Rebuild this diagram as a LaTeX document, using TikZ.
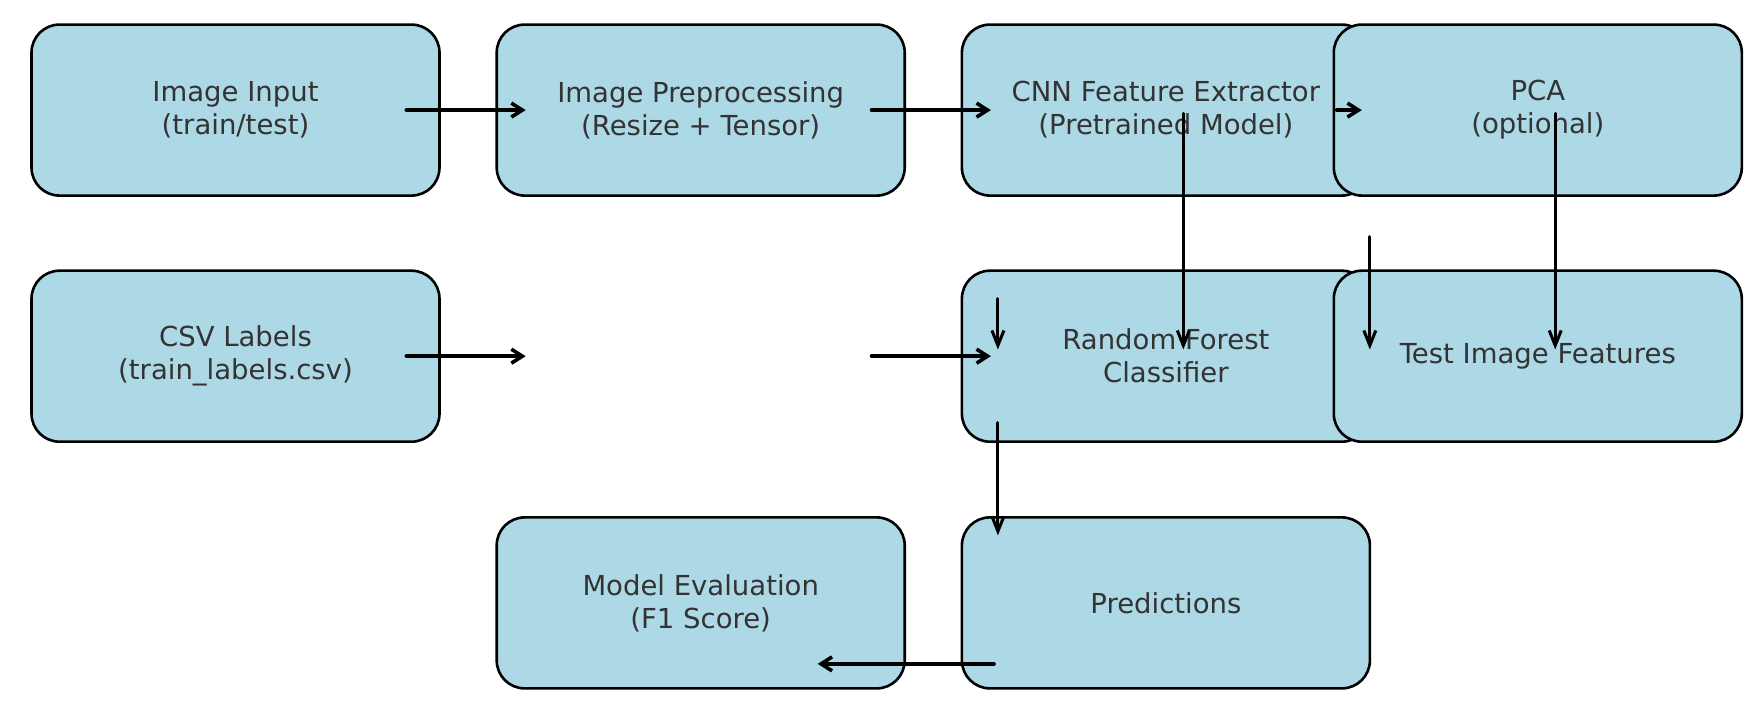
\documentclass[tikz,border=0pt]{standalone}
\usepackage{fontspec}
\setmainfont{DejaVu Sans}
\usetikzlibrary{arrows.meta}
\definecolor{boxfill}{HTML}{ADD8E6}
\definecolor{boxtext}{HTML}{333333}
\begin{document}
\begin{tikzpicture}[x=1pt,y=1pt,line width=2.6pt,
    stage/.style={draw=black,fill=boxfill,rounded corners=28pt,minimum width=408pt,
      minimum height=171pt,inner sep=0pt,outer sep=0pt,align=center,text=boxtext,
      font=\fontsize{27.5}{33}\selectfont},
    flow/.style={line width=4pt,line cap=round,-{Straight Barb[length=11pt,width=14pt,line width=3.6pt]}},
    drop/.style={line width=3pt,line cap=round,-{Straight Barb[length=15pt,width=12pt,line width=3pt]}}]
      \useasboundingbox (0,0) rectangle (1762,711);
      \node[stage] (input) at (235.5,600.9) {Image Input\\(train/test)};
      \node[stage] (prep) at (700.7,600.9) {Image Preprocessing\\(Resize + Tensor)};
      \node[stage] (cnn) at (1165.9,600.9) {CNN Feature Extractor\\(Pretrained Model)};
      \node[stage] (pca) at (1537.8,600.9) {PCA\\(optional)};
      \node[stage] (csv) at (235.5,354.8) {CSV Labels\\(train\_labels.csv)};
      \coordinate (gap) at (700.7,354.8);
      \node[stage] (rf) at (1165.9,354.8) {Random Forest\\Classifier};
      \node[stage] (test) at (1537.8,354.8) {Test Image Features};
      \node[stage] (eval) at (700.7,108.1) {Model Evaluation\\(F1 Score)};
      \node[stage] (pred) at (1165.9,108.1) {Predictions};
      \draw[flow] ([xshift=-33pt]input.east) -- ([xshift=29pt]prep.west);
      \draw[flow] ([xshift=-33pt]prep.east) -- ([xshift=29pt]cnn.west);
      \draw[flow] ([xshift=-33pt]cnn.east) -- ([xshift=28pt]pca.west);
      \draw[flow] ([xshift=-33pt]csv.east) -- ([xshift=-175pt]gap);
      \draw[flow] ([xshift=171pt]gap) -- ([xshift=29pt]rf.west);
      \draw[drop] ([xshift=17.4pt,yshift=-3.4pt]cnn.center) -- ([xshift=17.4pt,yshift=6.7pt]rf.center);
      \draw[drop] ([xshift=17.4pt,yshift=-3.4pt]pca.center) -- ([xshift=17.4pt,yshift=6.7pt]test.center);
      \draw[drop] ([xshift=36pt,yshift=34pt]test.north west) -- ([xshift=36pt,yshift=6.7pt]test.west);
      \draw[drop] ([xshift=36pt,yshift=-28pt]rf.north west) -- ([xshift=36pt,yshift=6.7pt]rf.west);
      \draw[drop] ([xshift=36pt,yshift=19pt]rf.south west) -- ([xshift=36pt,yshift=-18pt]pred.north west);
      \draw[flow] ([xshift=32pt,yshift=-61pt]pred.west) -- ([xshift=-87pt,yshift=-61pt]eval.east);
    \end{tikzpicture}
\end{document}
